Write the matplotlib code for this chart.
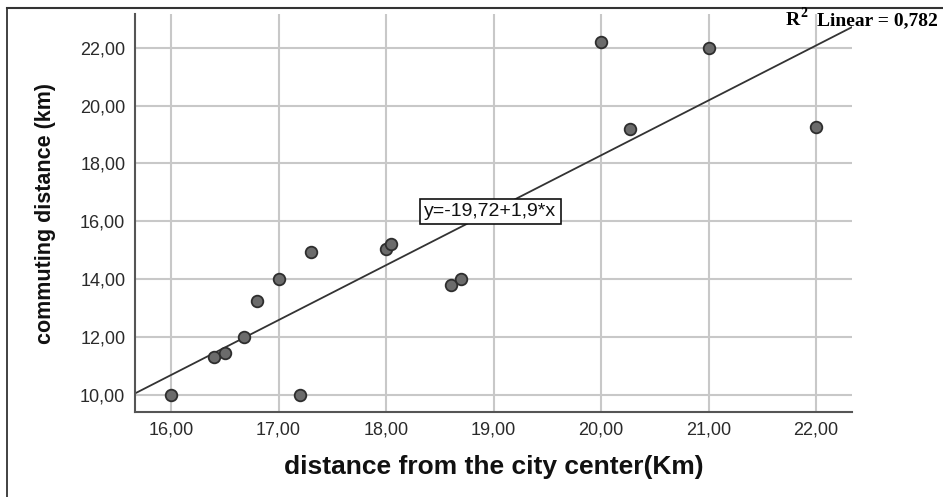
import matplotlib
matplotlib.use("Agg")
import matplotlib.pyplot as plt
from matplotlib.lines import Line2D

# ---------- DATA ----------
dist_center = [16.0, 17.2, 16.4, 16.5, 16.68, 16.8, 17.0, 17.3, 18.0, 18.05,
               18.6, 18.7, 20.0, 21.0, 20.27, 22.0]
commuting = [10.0, 10.0, 11.3, 11.45, 12.0, 13.25, 14.0, 14.95, 15.05, 15.2,
             13.8, 14.0, 22.2, 22.0, 19.2, 19.25]

intercept = -19.72
slope = 1.9
r2 = 0.782

x_ticks = [16, 17, 18, 19, 20, 21, 22]
y_ticks = [10, 12, 14, 16, 18, 20, 22]
x_labels = ["16,00", "17,00", "18,00", "19,00", "20,00", "21,00", "22,00"]
y_labels = ["10,00", "12,00", "14,00", "16,00", "18,00", "20,00", "22,00"]

# ---------- STYLE ----------
plt.rcParams['font.family'] = ['Liberation Sans', 'DejaVu Sans']

fig = plt.figure(figsize=(9.43, 4.97), dpi=100)
ax = fig.add_axes([0.1432, 0.171, 0.7603, 0.8008])

xlim = (15.665, 22.335)
ylim = (9.40, 23.17)

ax.scatter(dist_center, commuting, s=70, facecolor='#6b6b6b',
           edgecolor='#2e2e2e', linewidth=1.3, zorder=3)

# fit line across full x range
ax.plot(xlim, [intercept + slope * v for v in xlim], color='#333333',
        lw=1.3, zorder=2)

ax.set_xlim(xlim)
ax.set_ylim(ylim)
ax.set_xticks(x_ticks)
ax.set_xticklabels(x_labels)
ax.set_yticks(y_ticks)
ax.set_yticklabels(y_labels)
ax.tick_params(length=0, labelsize=13, colors='#2a2a2a', pad=7)

ax.grid(True, color='#c8c8c8', lw=1.5, zorder=0)
ax.set_axisbelow(True)
for side in ['top', 'right']:
    ax.spines[side].set_visible(False)
for side in ['left', 'bottom']:
    ax.spines[side].set_color('#555555')
    ax.spines[side].set_linewidth(1.5)

ax.set_xlabel("distance from the city center(Km)", fontsize=19,
              fontweight='bold', color='#111111', labelpad=12)
ax.set_ylabel("commuting distance (km)", fontsize=15.5, fontweight='bold',
              color='#111111', labelpad=17)

eq = "y={:.2f}+{:.1f}*x".format(intercept, slope).replace('.', ',')
ax.text(18.97, 16.34, eq, fontsize=14, ha='center', va='center',
        color='#111111', zorder=4,
        bbox=dict(boxstyle='square,pad=0.22', facecolor='white',
                  edgecolor='#111111', lw=1.2))

# R squared label, top right
fig.text(0.833, 0.950, "R", fontsize=14, fontweight='bold',
         family='Liberation Serif', ha='left', va='baseline')
fig.text(0.849, 0.966, "2", fontsize=10, fontweight='bold',
         family='Liberation Serif', ha='left', va='baseline')
fig.text(0.866, 0.950, "Linear = " + "{:.3f}".format(r2).replace('.', ','),
         fontsize=14, fontweight='bold', family='Liberation Serif',
         ha='left', va='baseline')

# frame lines (top and left)
fig.lines.append(Line2D([0.007, 1.0], [0.984, 0.984], transform=fig.transFigure,
                        color='#333333', lw=1.5))
fig.lines.append(Line2D([0.007, 0.007], [0.0, 0.984], transform=fig.transFigure,
                        color='#333333', lw=1.3))

fig.savefig("out.png", dpi=100)
